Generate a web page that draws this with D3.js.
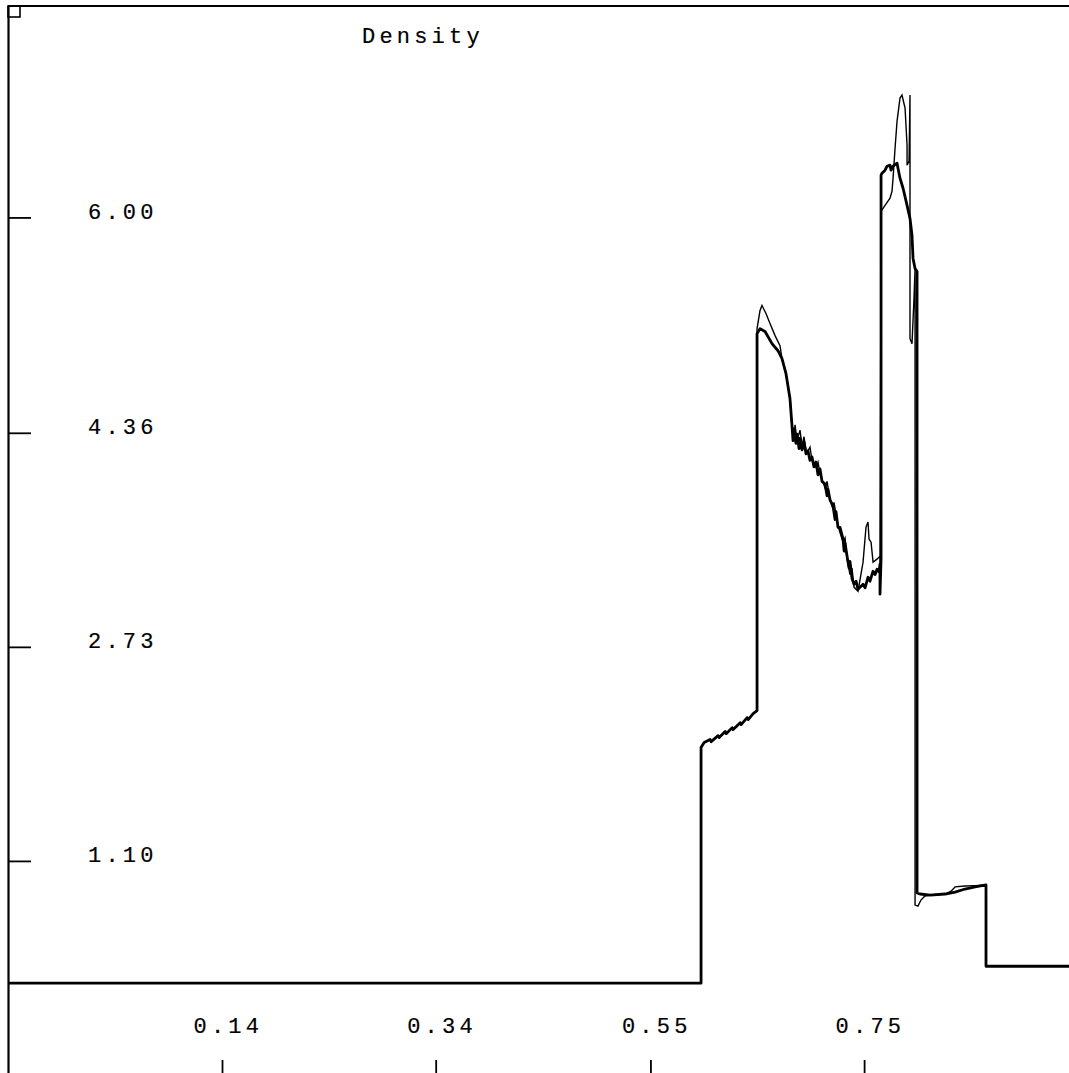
<!DOCTYPE html>
<html>
<head>
<meta charset="utf-8">
<script src="https://cdn.jsdelivr.net/npm/d3@7"></script>
<style>
  body { margin: 0; background: #fff; }
  svg text { font-family: "Liberation Mono", "Courier New", monospace; font-size: 22px; letter-spacing: 4.2px; fill: #000; stroke: #000; stroke-width: 0.2px; }
</style>
</head>
<body>
<div id="chart"></div>
<script>
// tick values (equally spaced) and the labels printed for them
var xTicks = [0.145, 0.348, 0.552, 0.755];
var xLabels = ["0.14", "0.34", "0.55", "0.75"];
var yTicks = [1.10, 2.73, 4.36, 6.00];
var yLabels = ["1.10", "2.73", "4.36", "6.00"];

// shared part of both runs: left state, step and the rising plateau
var common = [
  [-0.058, 0.169], [0.6001, 0.169], [0.6001, 1.963], [0.6030, 2.001],
  [0.6087, 2.024], [0.6097, 2.008], [0.6163, 2.054], [0.6173, 2.039],
  [0.6230, 2.085], [0.6240, 2.069], [0.6297, 2.115], [0.6306, 2.100],
  [0.6373, 2.153], [0.6382, 2.138], [0.6439, 2.191], [0.6449, 2.176],
  [0.6496, 2.222], [0.6533, 2.245]
];

// thick curve
var densA = [
  [0.6533, 5.115], [0.6561, 5.153], [0.6609, 5.131], [0.6675, 5.039],
  [0.6732, 4.985], [0.6770, 4.924], [0.6808, 4.810], [0.6846, 4.619],
  [0.6865, 4.413], [0.6875, 4.300], [0.6884, 4.390], [0.6903, 4.280],
  [0.6913, 4.350], [0.6932, 4.240], [0.6941, 4.320], [0.6960, 4.230],
  [0.6979, 4.290], [0.6998, 4.200], [0.7017, 4.222], [0.7036, 4.150],
  [0.7055, 4.176], [0.7074, 4.100], [0.7093, 4.138], [0.7112, 4.040],
  [0.7131, 4.085], [0.7150, 3.990], [0.7179, 3.970], [0.7198, 3.880],
  [0.7207, 3.930], [0.7226, 3.850], [0.7255, 3.802], [0.7274, 3.700],
  [0.7283, 3.760], [0.7302, 3.640], [0.7321, 3.640], [0.7350, 3.550],
  [0.7360, 3.460], [0.7369, 3.520], [0.7388, 3.420], [0.7407, 3.330],
  [0.7416, 3.380], [0.7435, 3.250], [0.7454, 3.207], [0.7473, 3.230],
  [0.7492, 3.169], [0.7540, 3.207], [0.7559, 3.180], [0.7587, 3.260],
  [0.7606, 3.230], [0.7635, 3.306], [0.7654, 3.280], [0.7673, 3.321],
  [0.7692, 3.300], [0.7701, 3.360], [0.7701, 3.131], [0.7711, 3.400],
  [0.7711, 6.321], [0.7720, 6.337], [0.7749, 6.360], [0.7768, 6.390],
  [0.7796, 6.398], [0.7806, 6.360], [0.7825, 6.390], [0.7863, 6.413],
  [0.7872, 6.375], [0.7891, 6.299], [0.7920, 6.222], [0.7958, 6.092],
  [0.7986, 5.993], [0.8005, 5.863], [0.8015, 5.688], [0.8034, 5.611],
  [0.8053, 5.588], [0.8053, 0.856], [0.8081, 0.848], [0.8176, 0.840],
  [0.8319, 0.848], [0.8414, 0.863], [0.8509, 0.886], [0.8604, 0.902],
  [0.8708, 0.917], [0.8708, 0.298], [0.958, 0.298]
];

// thin curve
var densB = [
  [0.6533, 5.153], [0.6561, 5.291], [0.6580, 5.329], [0.6618, 5.268],
  [0.6656, 5.192], [0.6704, 5.100], [0.6751, 5.024], [0.6770, 4.924],
  [0.6808, 4.810], [0.6846, 4.619], [0.6865, 4.413], [0.6884, 4.337],
  [0.6894, 4.420], [0.6913, 4.300], [0.6941, 4.380], [0.6960, 4.260],
  [0.6979, 4.330], [0.6998, 4.230], [0.7017, 4.222], [0.7036, 4.250],
  [0.7055, 4.150], [0.7093, 4.100], [0.7112, 4.138], [0.7131, 4.050],
  [0.7179, 3.940], [0.7198, 3.990], [0.7226, 3.850], [0.7255, 3.780],
  [0.7264, 3.830], [0.7302, 3.650], [0.7350, 3.527], [0.7369, 3.560],
  [0.7388, 3.400], [0.7416, 3.280], [0.7435, 3.330], [0.7454, 3.185],
  [0.7492, 3.153], [0.7540, 3.375], [0.7568, 3.642], [0.7587, 3.680],
  [0.7597, 3.550], [0.7616, 3.527], [0.7635, 3.375], [0.7673, 3.398],
  [0.7701, 3.421], [0.7701, 3.131], [0.7711, 6.047], [0.7749, 6.092],
  [0.7796, 6.146], [0.7815, 6.199], [0.7825, 6.299], [0.7844, 6.527],
  [0.7863, 6.734], [0.7891, 6.909], [0.7910, 6.932], [0.7939, 6.833],
  [0.7958, 6.550], [0.7958, 6.398], [0.7977, 6.429], [0.7986, 6.932],
  [0.7986, 5.077], [0.8005, 5.039], [0.8024, 5.382], [0.8034, 5.611],
  [0.8034, 0.764], [0.8062, 0.756], [0.8090, 0.802], [0.8128, 0.833],
  [0.8176, 0.840], [0.8319, 0.848], [0.8376, 0.870], [0.8414, 0.902],
  [0.8509, 0.909], [0.8604, 0.912], [0.8708, 0.917], [0.8708, 0.298],
  [0.958, 0.298]
];

var width = 1069,
    height = 1073;

var svg = d3.select("#chart")
            .append("svg")
            .attr("width", width)
            .attr("height", height);

// the plot area runs from the left frame past the right edge of the picture
var x = d3.scaleLinear()
          .domain([-0.0583, 0.9582])
          .range([8, 1078]);

var y = d3.scaleLinear()
          .domain([-0.515, 7.61])
          .range([1073, 6]);

var line = d3.line()
             .x(d => x(d[0]))
             .y(d => y(d[1]));

// frame: top rule and corner box
svg.append("line")
   .attr("x1", 8).attr("x2", width)
   .attr("y1", 6).attr("y2", 6)
   .attr("stroke", "#000").attr("stroke-width", 2.2);

svg.append("rect")
   .attr("x", 8).attr("y", 6)
   .attr("width", 12).attr("height", 11)
   .attr("fill", "none").attr("stroke", "#000").attr("stroke-width", 1.6);

// left axis, ticks pointing into the plot
var yAxis = svg.append("g")
               .attr("transform", "translate(8,0)")
               .call(d3.axisLeft(y)
                       .tickValues(yTicks)
                       .tickSize(-23)
                       .tickSizeOuter(0)
                       .tickFormat((d, i) => yLabels[i]));
yAxis.attr("font-family", null).attr("font-size", null);
yAxis.select(".domain").attr("stroke-width", 2.2);
yAxis.selectAll(".tick line").attr("stroke-width", 1.8);
yAxis.selectAll(".tick text")
     .attr("x", 80)
     .attr("dy", 1)
     .attr("text-anchor", "start");

// bottom ticks hang below the labels
var xAxis = svg.append("g")
               .attr("transform", "translate(0,1060)")
               .call(d3.axisBottom(x)
                       .tickValues(xTicks)
                       .tickSize(13)
                       .tickFormat((d, i) => xLabels[i]));
xAxis.attr("font-family", null).attr("font-size", null);
xAxis.select(".domain").remove();
xAxis.selectAll(".tick line").attr("stroke-width", 1.8);
xAxis.selectAll(".tick text")
     .attr("x", -29)
     .attr("y", -27)
     .attr("dy", 0)
     .attr("text-anchor", "start");

// title
svg.append("text")
   .attr("x", 362)
   .attr("y", 43)
   .text("Density");

// curves
svg.append("path")
   .datum(common.concat(densB))
   .attr("fill", "none")
   .attr("stroke", "#000")
   .attr("stroke-width", 1.4)
   .attr("d", line);

svg.append("path")
   .datum(common.concat(densA))
   .attr("fill", "none")
   .attr("stroke", "#000")
   .attr("stroke-width", 2.8)
   .attr("stroke-linejoin", "round")
   .attr("d", line);
</script>
</body>
</html>
